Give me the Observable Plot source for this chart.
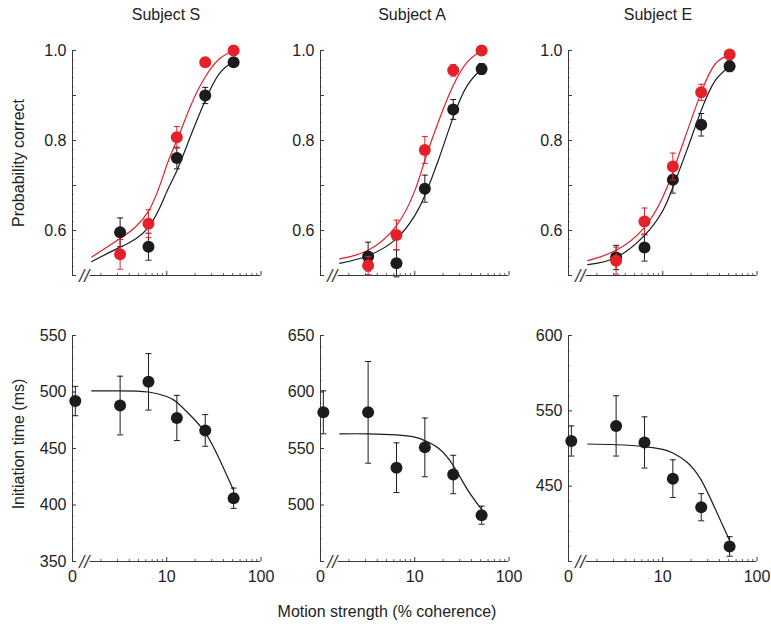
<!DOCTYPE html>
<html><head><meta charset="utf-8">
<script src="https://cdn.jsdelivr.net/npm/d3@7"></script>
<script src="https://cdn.jsdelivr.net/npm/@observablehq/plot@0.6"></script>
<style>
body{margin:0;background:#fff;font-family:"Liberation Sans",Arial,Helvetica,sans-serif;}
#wrap{position:relative;width:771px;height:629px;overflow:hidden;background:#fff;}
.panel{position:absolute;}
.t{position:absolute;font-size:16px;color:#222;white-space:nowrap;transform:translate(-50%,-50%);line-height:1;}
.yl{transform:translate(-50%,-50%) rotate(-90deg);}
</style></head><body><div id="wrap"></div>
<script>
// ---------------- data ----------------
const subjects = ["Subject S", "Subject A", "Subject E"];
const coherence = [3.2, 6.4, 12.8, 25.6, 51.2];
const rtCoherence = [0, 3.2, 6.4, 12.8, 25.6, 51.2];
const fitCoherence = [1.6, 3.2, 6.4, 10, 12.8, 18, 25.6, 36, 51.2];

const probBlackS = [0.596, 0.564, 0.761, 0.900, 0.974];
const probRedS   = [0.547, 0.615, 0.807, 0.974, 1.000];
const errBlackS  = [0.032, 0.030, 0.024, 0.018, 0.008];
const errRedS    = [0.033, 0.031, 0.024, 0.006, 0.003];
const fitBlackS  = [0.531, 0.563, 0.607, 0.686, 0.733, 0.811, 0.889, 0.948, 0.976];
const fitRedS    = [0.541, 0.582, 0.643, 0.745, 0.800, 0.878, 0.941, 0.981, 1.000];

const probBlackA = [0.542, 0.527, 0.693, 0.869, 0.959];
const probRedA   = [0.522, 0.590, 0.779, 0.956, 1.000];
const errBlackA  = [0.032, 0.030, 0.030, 0.022, 0.012];
const errRedA    = [0.020, 0.033, 0.030, 0.013, 0.003];
const fitBlackA  = [0.527, 0.544, 0.582, 0.633, 0.678, 0.759, 0.852, 0.922, 0.959];
const fitRedA    = [0.537, 0.556, 0.611, 0.688, 0.756, 0.844, 0.922, 0.974, 1.000];

const probBlackE = [0.540, 0.562, 0.713, 0.835, 0.965];
const probRedE   = [0.533, 0.620, 0.742, 0.907, 0.991];
const errBlackE  = [0.027, 0.030, 0.030, 0.025, 0.012];
const errRedE    = [0.030, 0.030, 0.030, 0.018, 0.005];
const fitBlackE  = [0.524, 0.540, 0.589, 0.644, 0.696, 0.778, 0.867, 0.933, 0.964];
const fitRedE    = [0.533, 0.556, 0.607, 0.674, 0.730, 0.818, 0.907, 0.970, 0.989];

const rtS    = [492, 488, 509, 477, 466, 406];
const errRtS = [13, 26, 25, 20, 14, 9];
const fitRtS = [501, 501, 500, 496, 491, 479, 464, 441, 413];

const rtA    = [582, 582, 533, 551, 527, 491];
const errRtA = [19, 45, 22, 26, 17, 8];
const fitRtA = [563, 563, 562, 560, 557, 550, 535, 514, 496];

const rtE    = [530, 540, 529, 505, 486, 460];
const errRtE = [10, 20, 17, 12.5, 9, 6.5];
const fitRtE = [528, 527.5, 526.3, 524.4, 522, 516, 504, 485, 464];

const probDomain = [0.5, 1.0];
const probTicks = [0.6, 0.8, 1.0];
const probTickLabels = ["0.6", "0.8", "1.0"];
const rtDomainS = [350, 550], rtTicksS = [350, 400, 450, 500, 550], rtTickLabelsS = ["350", "400", "450", "500", "550"];
const rtDomainA = [450, 650], rtTicksA = [500, 550, 600, 650], rtTickLabelsA = ["500", "550", "600", "650"];
const rtDomainE = [450, 600], rtTicksE = [500, 550, 600], rtTickLabelsE = ["450", "550", "600"];
const xTickCoh = [0, 10, 100];
const xTickLabels = ["0", "10", "100"];
const minorCoh = [2, 3, 4, 5, 6, 7, 8, 9, 20, 30, 40, 50, 60, 70, 80, 90];
const majorCoh = [10, 100];

// ---------------- layout / style ----------------
const axisLeft = [72, 320, 568];
const W = 262, ML = 62, MR = 11.5;
const plotW = W - ML - MR;
const axisColor = "#3a3a3a";
const blackColor = "#1c1c1c";
const redColor = "#e4202a";
const zeroU = 0.03;          // position of the 0% point (left of the axis break)
const stubEndU = 0.042, breakU = 0.125, axisStartU = 0.186;
const toU = c => (c === 0 ? zeroU : Math.log10(c));
const capSymbol = {draw(ctx) { ctx.moveTo(-3, 0); ctx.lineTo(3, 0); }};

const wrap = document.getElementById("wrap");

function series(cs, vals, errs) {
  return cs.map((c, i) => ({u: toU(c), v: vals[i], lo: vals[i] - errs[i], hi: vals[i] + errs[i]}));
}
function fit(cs, vals) {
  return cs.map((c, i) => ({u: toU(c), v: vals[i]}));
}

function panel({left, top, height, marginTop, marginBottom, yDomain, yTicks, yTickLabels, yMinorStep, yMidStep, showX, sets}) {
  const plotH = height - marginTop - marginBottom;
  const yMin = yDomain[0];
  const minorY = d3.range(yDomain[0], yDomain[1] + 1e-9, yMinorStep);
  const midY = d3.range(yDomain[0], yDomain[1] + 1e-9, yMidStep);
  const labelMap = new Map(yTicks.map((t, i) => [t, yTickLabels[i]]));
  const marks = [
    Plot.ruleX([0], {stroke: axisColor, strokeWidth: 1}),
    Plot.ruleY([yMin], {x1: 0, x2: stubEndU, stroke: axisColor}),
    Plot.ruleY([yMin], {x1: axisStartU, x2: 2, stroke: axisColor}),
    Plot.text(["//"], {x: breakU, y: yMin, text: d => d, fontSize: 18, fontStyle: "italic", fill: axisColor, textAnchor: "middle", lineAnchor: "middle", dy: 1}),
    Plot.tickY(minorY, {y: d => d, stroke: axisColor, strokeWidth: 0.8, insetRight: plotW - 1.5}),
    Plot.tickY(midY, {y: d => d, stroke: axisColor, insetRight: plotW - 4}),
    Plot.tickX(minorCoh.map(Math.log10), {x: d => d, stroke: axisColor, strokeWidth: 0.8, insetTop: plotH - 2}),
    Plot.tickX(majorCoh.map(Math.log10), {x: d => d, stroke: axisColor, insetTop: plotH - 4}),
    Plot.axisY({ticks: yTicks, tickFormat: d => labelMap.get(d), tickSize: 0, tickPadding: 6, label: null, fontSize: 16})
  ];
  if (showX) {
    const xl = new Map(xTickCoh.map((c, i) => [c === 0 ? 0 : Math.log10(c), xTickLabels[i]]));
    marks.push(Plot.axisX({ticks: [...xl.keys()], tickFormat: d => xl.get(d), tickSize: 0, tickPadding: 9, label: null, fontSize: 16}));
  }
  for (const s of sets) {
    marks.push(Plot.line(s.fit, {x: "u", y: "v", stroke: s.color, strokeWidth: 1.2, curve: "natural"}));
  }
  for (const s of sets) {
    marks.push(Plot.ruleX(s.pts, {x: "u", y1: "lo", y2: "hi", stroke: s.color, strokeWidth: 1}));
    marks.push(Plot.dot(s.pts, {x: "u", y: "hi", symbol: capSymbol, fill: "none", stroke: s.color, strokeWidth: 1}));
    marks.push(Plot.dot(s.pts, {x: "u", y: "lo", symbol: capSymbol, fill: "none", stroke: s.color, strokeWidth: 1}));
    marks.push(Plot.dot(s.pts, {x: "u", y: "v", r: 6, fill: s.color, stroke: "none"}));
  }
  const svg = Plot.plot({
    width: W, height, marginLeft: ML, marginRight: MR, marginTop, marginBottom,
    style: {fontSize: "16px", fontFamily: "'Liberation Sans', Arial, sans-serif", color: "#222", background: "transparent", overflow: "visible"},
    x: {type: "linear", domain: [0, 2], axis: showX ? undefined : null},
    y: {type: "linear", domain: yDomain, axis: null},
    marks
  });
  svg.classList.add("panel");
  svg.style.left = left + "px";
  svg.style.top = top + "px";
  wrap.appendChild(svg);
}

const probSets = [
  [probBlackS, errBlackS, fitBlackS, probRedS, errRedS, fitRedS],
  [probBlackA, errBlackA, fitBlackA, probRedA, errRedA, fitRedA],
  [probBlackE, errBlackE, fitBlackE, probRedE, errRedE, fitRedE]
];
const rtSets = [
  [rtS, errRtS, fitRtS, rtDomainS, rtTicksS, rtTickLabelsS],
  [rtA, errRtA, fitRtA, rtDomainA, rtTicksA, rtTickLabelsA],
  [rtE, errRtE, fitRtE, rtDomainE, rtTicksE, rtTickLabelsE]
];

for (let k = 0; k < 3; k++) {
  const [pb, eb, fb, pr, er, fr] = probSets[k];
  panel({
    left: axisLeft[k] - ML, top: 0, height: 290, marginTop: 50, marginBottom: 15,
    yDomain: probDomain, yTicks: probTicks, yTickLabels: probTickLabels, yMinorStep: 0.02, yMidStep: 0.1, showX: false,
    sets: [
      {pts: series(coherence, pb, eb), fit: fit(fitCoherence, fb), color: blackColor},
      {pts: series(coherence, pr, er), fit: fit(fitCoherence, fr), color: redColor}
    ]
  });
  const [rt, ert, frt, dom, ticks, labels] = rtSets[k];
  panel({
    left: axisLeft[k] - ML, top: 300, height: 300, marginTop: 35, marginBottom: 39,
    yDomain: dom, yTicks: ticks, yTickLabels: labels, yMinorStep: 10, yMidStep: 50, showX: true,
    sets: [{pts: series(rtCoherence, rt, ert), fit: fit(fitCoherence, frt), color: blackColor}]
  });
}

function addText(txt, x, y, cls = "t") {
  const d = document.createElement("div");
  d.className = cls;
  d.textContent = txt;
  d.style.left = x + "px";
  d.style.top = y + "px";
  wrap.appendChild(d);
}
const titleX = [166, 412, 658];
subjects.forEach((s, i) => addText(s, titleX[i], 15));
addText("Probability correct", 19, 163, "t yl");
addText("Initiation time (ms)", 19, 444, "t yl");
addText("Motion strength (% coherence)", 387, 612);
</script></body></html>
